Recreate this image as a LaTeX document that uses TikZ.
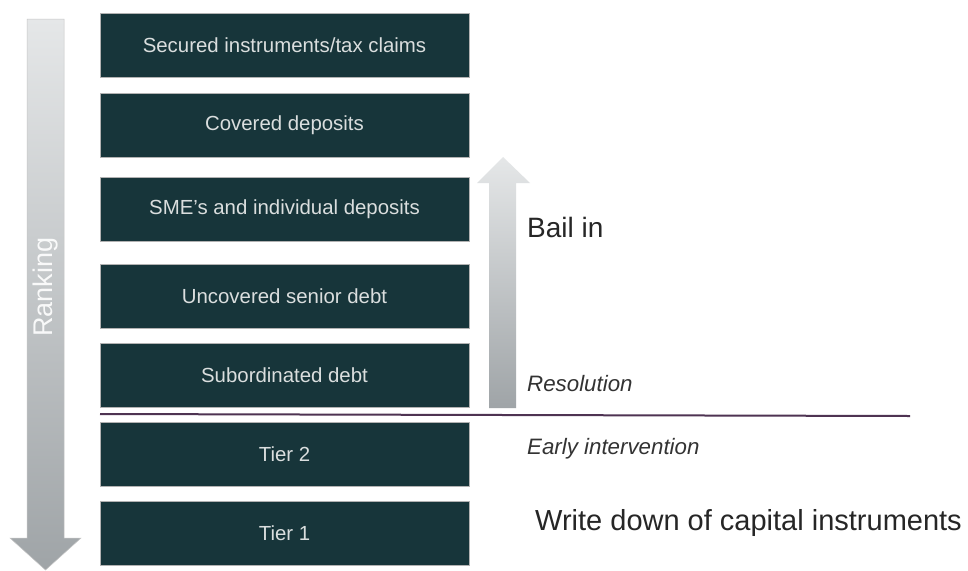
\documentclass[tikz,border=0pt]{standalone}
\usepackage{fontspec}
\setmainfont{Liberation Sans}
\begin{document}
\begin{tikzpicture}[x=1pt,y=-1pt,
  tierbox/.style={fill=boxteal,draw=gray!60,line width=0.6pt,minimum width=369pt,minimum height=64pt,inner sep=0pt,
    text=boxtext,font=\fontsize{20.4}{23}\selectfont},
  bigtxt/.style={anchor=base west,inner sep=0pt,text=black!85,font=\fontsize{28}{32}\selectfont},
  smalltxt/.style={anchor=base west,inner sep=0pt,text=black!80,font=\fontsize{22.3}{25}\itshape}]
\definecolor{boxteal}{HTML}{17353A}
\definecolor{boxtext}{HTML}{DADEDE}
\definecolor{arrtop}{HTML}{E5E7E8}
\definecolor{arrbot}{HTML}{9FA4A7}
\definecolor{divline}{HTML}{4E3352}
\useasboundingbox (0,0) rectangle (968,570);
\fill[white] (0,0) rectangle (968,570);
% left ranking arrow
\shade[top color=arrtop,bottom color=arrbot,draw=gray!45,line width=0.5pt]
  (27,19) -- (64,19) -- (64,538) -- (81,538) -- (45.5,570) -- (10,538) -- (27,538) -- cycle;
\node[rotate=90,text=white,opacity=0.9,font=\fontsize{27}{30}\selectfont,inner sep=0pt] (rank) at (46,287) {Ranking};
% boxes
\node[tierbox] (b1) at (284.5,45) {Secured instruments/tax claims};
\node[tierbox] (b2) at (284.5,125) {Covered deposits};
\node[tierbox] (b3) at (284.5,209.5) {SME's and individual deposits};
\node[tierbox] (b4) at (284.5,296) {Uncovered senior debt};
\node[tierbox] (b5) at (284.5,375) {Subordinated debt};
\node[tierbox] (t2) at (284.5,454.5) {Tier 2};
\node[tierbox] (t1) at (284.5,533) {Tier 1};
% bail-in arrow
\shade[top color=arrtop,bottom color=arrbot]
  (489,408) -- (489,183) -- (477,183) -- (503,157) -- (530,183) -- (516,183) -- (516,408) -- cycle;
% divider line
\coordinate (l1) at (100,414);
\coordinate (l2) at (910,416);
\draw[divline,line width=2pt] (l1) -- (l2);
% labels
\node[bigtxt] (bail) at (527,237) {Bail in};
\node[smalltxt] (res) at (527,391) {Resolution};
\node[smalltxt] (early) at (527,454) {Early intervention};
\node[bigtxt,font=\fontsize{29}{33}\selectfont] (write) at (535,530) {Write down of capital instruments};
\end{tikzpicture}
\end{document}
